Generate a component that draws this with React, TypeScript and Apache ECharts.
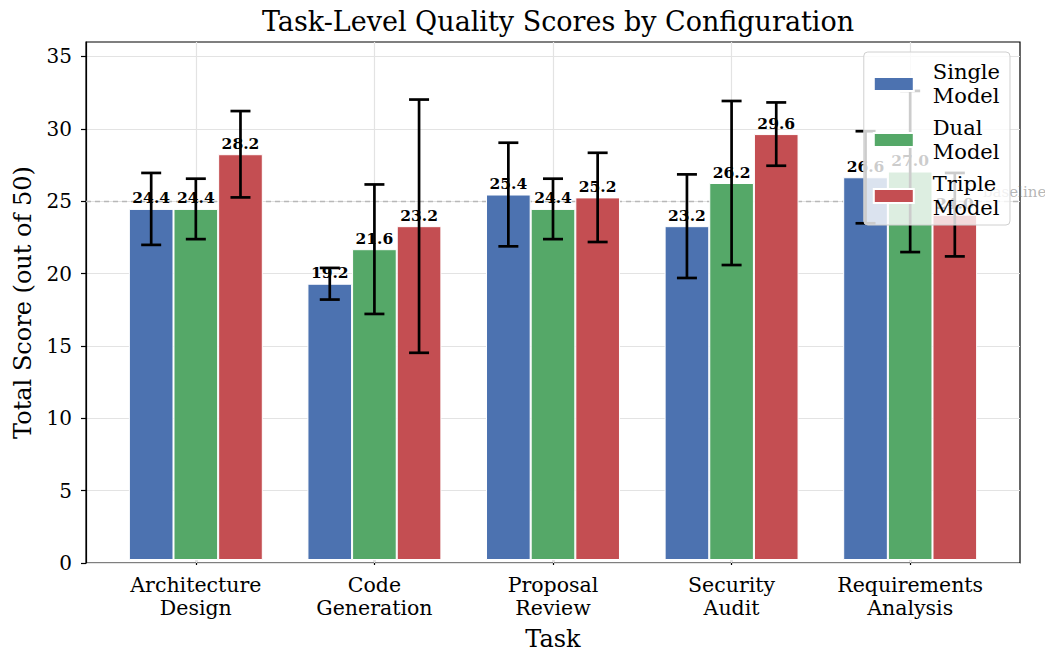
import React, { useEffect, useRef } from "react";
import * as echarts from "echarts";

const categories = [
  "Architecture\nDesign",
  "Code\nGeneration",
  "Proposal\nReview",
  "Security\nAudit",
  "Requirements\nAnalysis",
];
const seriesNames = ["Single\nModel", "Dual\nModel", "Triple\nModel"];
const singleScores = [24.4, 19.2, 25.4, 23.2, 26.6];
const dualScores = [24.4, 21.6, 24.4, 26.2, 27.0];
const tripleScores = [28.2, 23.2, 25.2, 29.6, 24.0];
const singleErr = [2.5, 1.1, 3.6, 3.6, 3.2];
const dualErr = [2.1, 4.5, 2.1, 5.7, 5.6];
const tripleErr = [3.0, 8.8, 3.1, 2.2, 2.9];
const baselineValue = 25;
const yTicks = [0, 5, 10, 15, 20, 25, 30, 35];

const FONT = "DejaVu Serif";
const colors = ["#4C72B0", "#55A868", "#C44E52"];

export default function App() {
  const ref = useRef<HTMLDivElement>(null);
  useEffect(() => {
    if (!ref.current) return;
    const chart = echarts.init(ref.current, undefined, { renderer: "svg" });

    const W = 1045;
    const H = 656;
    const plotLeft = 86;
    const plotRight = 1020;
    const plotTop = 42;
    const plotBottom = 563;
    const xMin = -0.615;
    const xMax = 4.615;
    const yMax = 36;
    const unit = (plotRight - plotLeft) / (xMax - xMin);
    const bandLeft = plotLeft + (-0.5 - xMin) * unit;
    const bandRight = plotLeft + (categories.length - 0.5 - xMin) * unit;

    const scores = [singleScores, dualScores, tripleScores];
    const errs = [singleErr, dualErr, tripleErr];

    const errData: number[][] = [];
    scores.forEach((arr, s) =>
      arr.forEach((v, i) => errData.push([i, v, errs[s][i], s]))
    );

    const gridLineStyle = { type: "solid", color: "#e3e3e3", width: 1.2 };

    const option: any = {
      animation: false,
      backgroundColor: "#fff",
      title: {
        text: "Task-Level Quality Scores by Configuration",
        left: (plotLeft + plotRight) / 2,
        textAlign: "center",
        top: 3,
        textStyle: { fontFamily: FONT, fontSize: 27, fontWeight: "normal", color: "#000" },
      },
      grid: [
        {
          left: plotLeft,
          right: W - plotRight,
          top: plotTop,
          bottom: H - plotBottom,
          show: true,
          borderColor: "#000",
          borderWidth: 1.2,
          backgroundColor: "transparent",
        },
        {
          left: bandLeft,
          right: W - bandRight,
          top: plotTop,
          bottom: H - plotBottom,
        },
      ],
      xAxis: [
        {
          type: "value",
          gridIndex: 0,
          min: xMin,
          max: xMax,
          show: false,
          axisLine: { show: false, onZero: false },
        },
        {
          type: "category",
          gridIndex: 1,
          data: categories,
          axisLine: { show: false, onZero: false },
          axisTick: { show: true, alignWithLabel: true, interval: 0, length: 5, lineStyle: { color: "#000", width: 1.2 } },
          axisLabel: { fontFamily: FONT, fontSize: 20.5, color: "#000", margin: 13, lineHeight: 23, interval: 0 },
          splitLine: { show: false },
          name: "Task",
          nameLocation: "middle",
          nameGap: 67,
          nameTextStyle: { fontFamily: FONT, fontSize: 24, color: "#000" },
        },
      ],
      yAxis: [
        {
          type: "value",
          gridIndex: 0,
          min: 0,
          max: yMax,
          interval: 5,
          axisLine: { show: true, onZero: false, lineStyle: { color: "#000", width: 1.2 } },
          axisTick: { show: true, length: 5, lineStyle: { color: "#000", width: 1.2 }, customValues: yTicks },
          axisLabel: { fontFamily: FONT, fontSize: 20, color: "#000", margin: 14, customValues: yTicks },
          splitLine: { show: true, lineStyle: { color: "#e3e3e3", width: 1.2 } },
          name: "Total Score (out of 50)",
          nameLocation: "middle",
          nameGap: 51,
          nameTextStyle: { fontFamily: FONT, fontSize: 24, color: "#000" },
        },
        {
          type: "value",
          gridIndex: 1,
          min: 0,
          max: yMax,
          show: false,
          axisLine: { show: false, onZero: false },
          splitLine: { show: false },
        },
      ],
      legend: {
        orient: "vertical",
        right: W - 1010,
        top: 52,
        itemWidth: 40,
        itemHeight: 14,
        itemGap: 8,
        padding: [8, 10, 5, 9],
        backgroundColor: "rgba(255,255,255,0.8)",
        borderColor: "#d0d0d0",
        borderWidth: 1,
        borderRadius: 4,
        icon: "rect",
        data: seriesNames,
        textStyle: { fontFamily: FONT, fontSize: 21, lineHeight: 24, color: "#000", padding: [0, 0, 0, 14] },
        z: 10,
      },
      graphic: [
        {
          type: "text",
          left: 983,
          top: 184,
          z: 1,
          style: { text: "baseline", fill: "rgba(120,120,120,0.55)", font: `15px "${FONT}"` },
        },
      ],
      series: [
        {
          type: "line",
          xAxisIndex: 0,
          yAxisIndex: 0,
          data: [],
          silent: true,
          markLine: {
            silent: true,
            symbol: "none",
            z: 1,
            label: { show: false },
            data: [
              [
                { coord: [xMin, baselineValue], lineStyle: { type: [5, 4], color: "#b8b8b8", width: 1.3 } },
                { coord: [xMax, baselineValue] },
              ],
              ...categories.map((_, i) => [
                { coord: [i, 0], lineStyle: gridLineStyle },
                { coord: [i, yMax] },
              ]),
            ],
          },
        },
        ...scores.map((arr, s) => ({
          type: "bar",
          name: seriesNames[s],
          xAxisIndex: 1,
          yAxisIndex: 1,
          data: arr,
          barWidth: "25%",
          barGap: "0%",
          z: 2,
          itemStyle: { color: colors[s], borderColor: "#fff", borderWidth: 1 },
          label: {
            show: true,
            position: "top",
            distance: 3,
            formatter: (p: any) => Number(p.value).toFixed(1),
            fontFamily: FONT,
            fontSize: 15.5,
            fontWeight: "bold",
            color: "#000",
          },
        })),
        {
          type: "custom",
          xAxisIndex: 1,
          yAxisIndex: 1,
          data: errData,
          z: 3,
          silent: true,
          encode: { x: 0, y: 1 },
          renderItem: (params: any, api: any) => {
            const ci = api.value(0);
            const mean = api.value(1);
            const err = api.value(2);
            const s = api.value(3);
            const band = api.size([1, 0])[0];
            const c = api.coord([ci, mean]);
            const x = c[0] + (s - 1) * band * 0.25;
            const yTop = api.coord([ci, mean + err])[1];
            const yBot = api.coord([ci, mean - err])[1];
            const cap = 10;
            const style = { stroke: "#000", lineWidth: 2.7 };
            return {
              type: "group",
              children: [
                { type: "line", shape: { x1: x, y1: yTop, x2: x, y2: yBot }, style },
                { type: "line", shape: { x1: x - cap, y1: yTop, x2: x + cap, y2: yTop }, style },
                { type: "line", shape: { x1: x - cap, y1: yBot, x2: x + cap, y2: yBot }, style },
              ],
            };
          },
        },
      ],
    };
    chart.setOption(option);
    return () => chart.dispose();
  }, []);
  return (
    <div
      ref={ref}
      style={{ position: "fixed", left: 0, top: 0, width: 1045, height: 656 }}
    />
  );
}
